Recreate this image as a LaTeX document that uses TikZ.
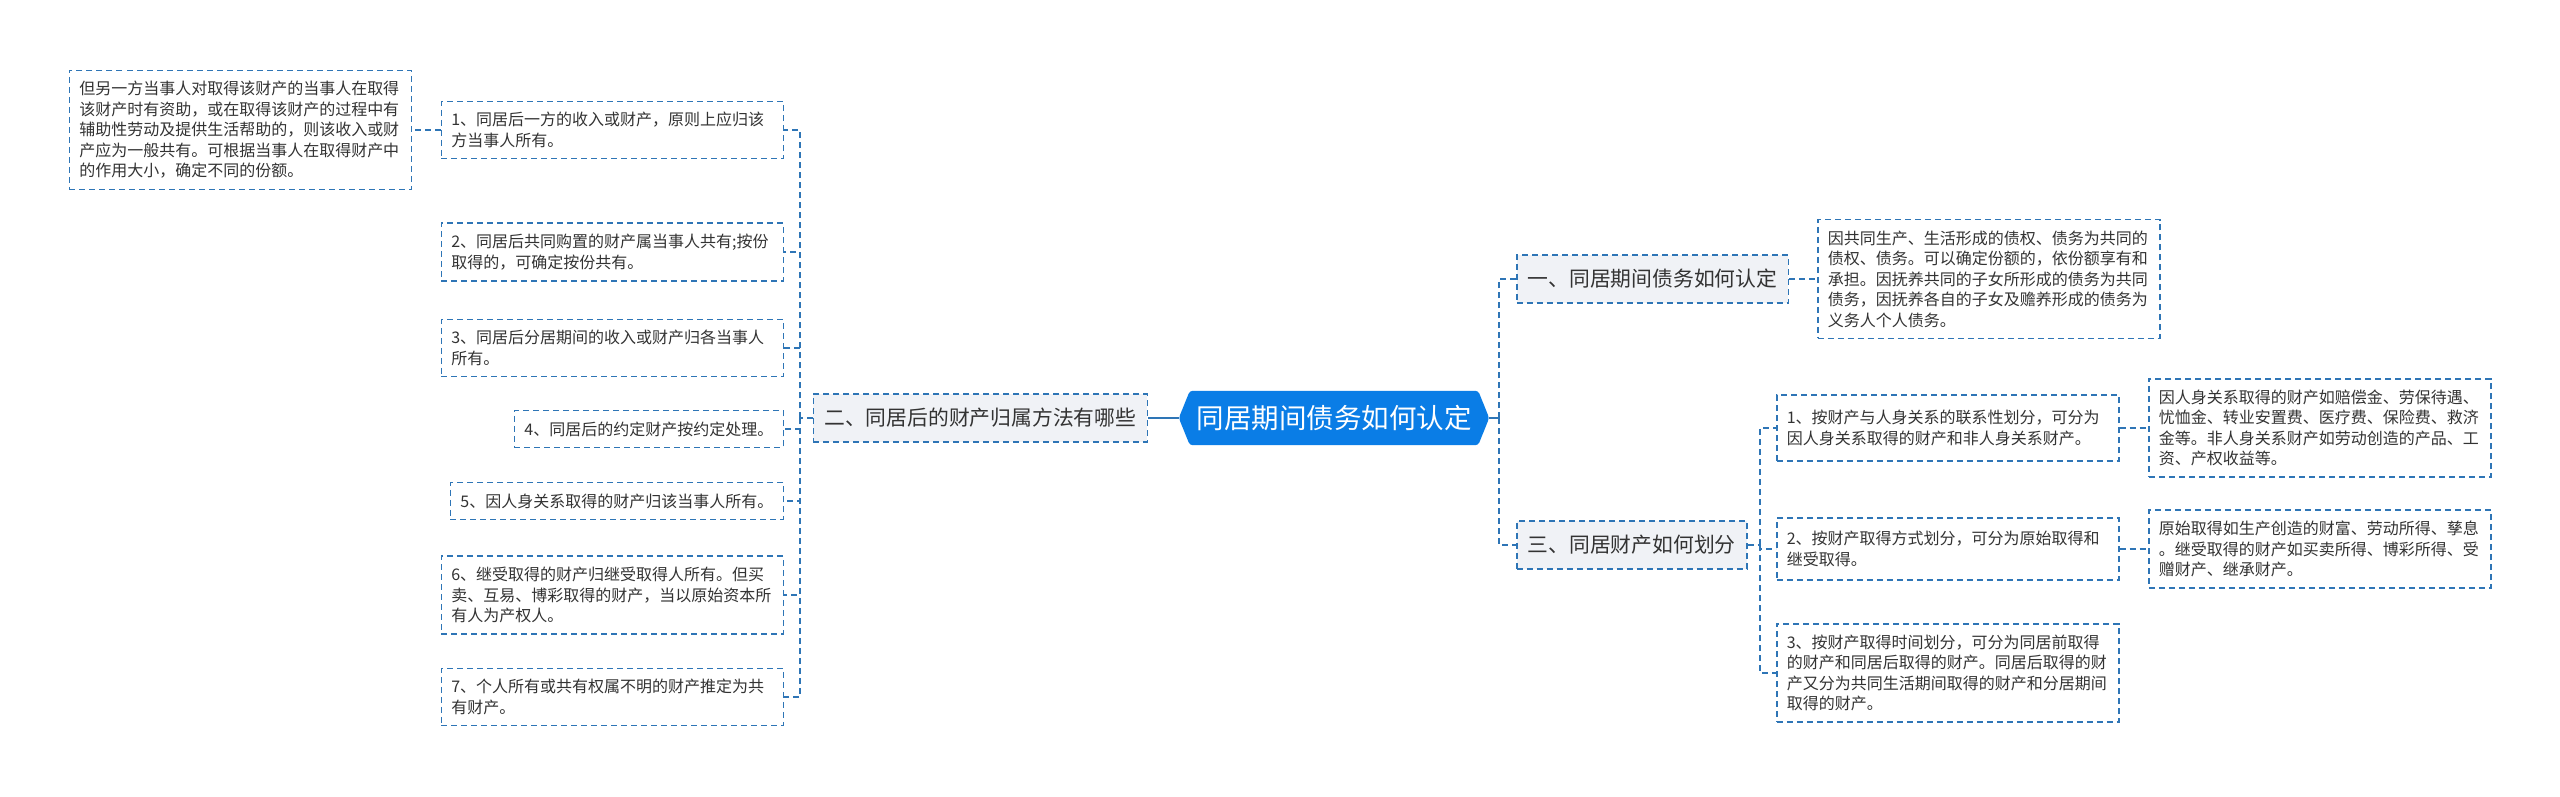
\documentclass[tikz,border=0pt]{standalone}
\usepackage{fontspec}
\newfontfamily\cjk{Noto Sans CJK SC}
\usetikzlibrary{positioning,backgrounds,calc}
\definecolor{hubblue}{RGB}{10,125,230}
\definecolor{edge}{RGB}{46,117,182}
\definecolor{topic}{RGB}{240,242,246}
\definecolor{ink}{RGB}{51,51,51}

\begin{document}
\begin{tikzpicture}[x=1pt, y=-1pt,
  box/.style={draw=edge, line width=1.5pt, dash pattern=on 6pt off 4pt,
              align=left, inner xsep=10pt, inner ysep=11pt, text=ink,
              font=\cjk\fontsize{16}{20.5}\selectfont},
  leaf/.style={box, text width=322pt},
  topic/.style={box, fill=topic, inner xsep=11pt, minimum height=48pt,
                font=\cjk\fontsize{20.8}{24}\selectfont},
  hub/.style={minimum width=288pt, minimum height=54pt, inner sep=0pt,
              text=white, font=\cjk\fontsize{27.5}{30}\selectfont},
  link/.style={draw=edge, line width=1.5pt, dash pattern=on 6pt off 4pt},
  trunk/.style={draw=edge, line width=2.5pt}
]
\useasboundingbox (0,0) rectangle (2560,797);

\node[hub] (hub) at (1334,418) {同居期间债务如何认定};
\coordinate (hubL) at ([xshift=-11pt]hub.west);
\coordinate (hubR) at ([xshift=11pt]hub.east);
\begin{scope}[on background layer]
\fill[white] (0,0) rectangle (2560,797);
\fill[hubblue, rounded corners=3pt] (hubL) -- (hub.north west) -- (hub.north east)
  -- (hubR) -- (hub.south east) -- (hub.south west) -- cycle;
\end{scope}

\node[topic, anchor=east] (mid2) at (1148,418) {二、同居后的财产归属方法有哪些};
\node[topic, anchor=west] (mid1) at (1516,279) {一、同居期间债务如何认定};
\node[topic, anchor=west] (mid3) at (1516,545) {三、同居财产如何划分};

\node[leaf, anchor=east] (b1) at (784,130) {1、同居后一方的收入或财产，原则上应归该\\方当事人所有。};
\node[leaf, anchor=east] (b2) at (784,252) {2、同居后共同购置的财产属当事人共有;按份\\取得的，可确定按份共有。};
\node[leaf, anchor=east] (b3) at (784,348) {3、同居后分居期间的收入或财产归各当事人\\所有。};
\node[box, anchor=east] (b4) at (784,429) {4、同居后的约定财产按约定处理。};
\node[box, anchor=east] (b5) at (784,501) {5、因人身关系取得的财产归该当事人所有。};
\node[leaf, anchor=east] (b6) at (784,595) {6、继受取得的财产归继受取得人所有。但买\\卖、互易、博彩取得的财产，当以原始资本所\\有人为产权人。};
\node[leaf, anchor=east] (b7) at (784,697) {7、个人所有或共有权属不明的财产推定为共\\有财产。};
\node[leaf, anchor=east] (b1note) at (412,130) {但另一方当事人对取得该财产的当事人在取得\\该财产时有资助，或在取得该财产的过程中有\\辅助性劳动及提供生活帮助的，则该收入或财\\产应为一般共有。可根据当事人在取得财产中\\的作用大小，确定不同的份额。};

\node[leaf, anchor=west] (debt) at (1817,279) {因共同生产、生活形成的债权、债务为共同的\\债权、债务。可以确定份额的，依份额享有和\\承担。因抚养共同的子女所形成的债务为共同\\债务，因抚养各自的子女及赡养形成的债务为\\义务人个人债务。};

\node[leaf, anchor=west, minimum height=66pt] (s1) at (1776,428) {1、按财产与人身关系的联系性划分，可分为\\因人身关系取得的财产和非人身关系财产。};
\node[leaf, anchor=west, minimum height=62pt] (s2) at (1776,549) {2、按财产取得方式划分，可分为原始取得和\\继受取得。};
\node[leaf, anchor=west] (s3) at (1776,673) {3、按财产取得时间划分，可分为同居前取得\\的财产和同居后取得的财产。同居后取得的财\\产又分为共同生活期间取得的财产和分居期间\\取得的财产。};
\node[leaf, anchor=west] (s1note) at (2148,428) {因人身关系取得的财产如赔偿金、劳保待遇、\\忧恤金、转业安置费、医疗费、保险费、救济\\金等。非人身关系财产如劳动创造的产品、工\\资、产权收益等。};
\node[leaf, anchor=west] (s2note) at (2148,549) {原始取得如生产创造的财富、劳动所得、孳息\\。继受取得的财产如买卖所得、博彩所得、受\\赠财产、继承财产。};

\coordinate (lfork) at (800,418);
\coordinate (rfork) at (1499,418);
\coordinate (sfork) at (1760,545);

\draw[trunk] (mid2.east) -- (hubL);
\draw[trunk] (hubR) -- (rfork);
\draw[link, line width=2.5pt] (rfork) |- (mid1.west);
\draw[link, line width=2.5pt] (rfork) |- (mid3.west);

\draw[link] (mid2.west) -- (lfork);
\foreach \n in {b1,b2,b3,b4,b5,b6,b7}
  \draw[link] (lfork) |- (\n.east);
\draw[link] (b1.west) -- (b1note.east);

\draw[link] (mid1.east) -- (debt.west);
\draw[link] (mid3.east) -- (sfork);
\foreach \n in {s1,s2,s3}
  \draw[link] (sfork) |- (\n.west);
\draw[link] (s1.east) -- (s1note.west);
\draw[link] (s2.east) -- (s2note.west);

\end{tikzpicture}
\end{document}
